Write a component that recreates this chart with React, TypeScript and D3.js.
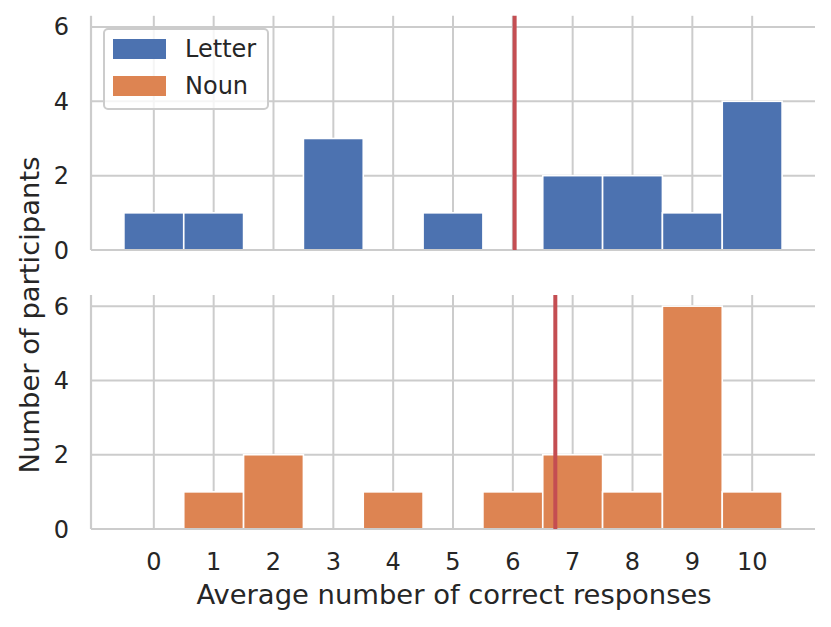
import * as d3 from 'd3';
import { useEffect, useRef } from 'react';

// bin centres (one bin per whole number of correct responses)
const binCentres = [0, 1, 2, 3, 4, 5, 6, 7, 8, 9, 10];
const letterCounts = [1, 1, 0, 3, 0, 1, 0, 2, 2, 1, 4];
const nounCounts = [0, 1, 2, 0, 1, 0, 1, 2, 1, 6, 1];
const letterMean = 6.03;
const nounMean = 6.71;
const yTicks = [0, 2, 4, 6];
const seriesNames = ['Letter', 'Noun'];
const seriesColors = ['#4c72b0', '#dd8452'];

const width = 831;
const height = 627;
const textColor = '#262626';
const gridColor = '#cccccc';
const font = '"DejaVu Sans", sans-serif';

export default function App() {
  const ref = useRef<SVGSVGElement | null>(null);

  useEffect(() => {
    if (!ref.current) return;
    const svg = d3.select(ref.current);
    svg.selectAll('*').remove();

    const x = d3.scaleLinear().domain([-1.05, 11.05]).range([91, 815]);

    const panels = [
      { counts: letterCounts, mean: letterMean, color: seriesColors[0], top: 15.8, bottom: 250 },
      { counts: nounCounts, mean: nounMean, color: seriesColors[1], top: 295, bottom: 529 },
    ];

    panels.forEach((p, i) => {
      const y = d3.scaleLinear().domain([0, 6.3]).range([p.bottom, p.top]);
      const g = svg.append('g');

      // grid
      g.selectAll('line.vg')
        .data(binCentres)
        .join('line')
        .attr('x1', (d) => x(d))
        .attr('x2', (d) => x(d))
        .attr('y1', p.top)
        .attr('y2', p.bottom)
        .attr('stroke', gridColor)
        .attr('stroke-width', 2);
      g.selectAll('line.hg')
        .data(yTicks)
        .join('line')
        .attr('x1', x.range()[0])
        .attr('x2', x.range()[1])
        .attr('y1', (d) => y(d))
        .attr('y2', (d) => y(d))
        .attr('stroke', gridColor)
        .attr('stroke-width', 2);

      // bars
      g.selectAll('rect.bar')
        .data(p.counts.map((c, k) => ({ c, k })).filter((d) => d.c > 0))
        .join('rect')
        .attr('x', (d) => x(binCentres[d.k] - 0.5))
        .attr('width', (d) => x(binCentres[d.k] + 0.5) - x(binCentres[d.k] - 0.5))
        .attr('y', (d) => y(d.c))
        .attr('height', (d) => y(0) - y(d.c))
        .attr('fill', p.color)
        .attr('stroke', '#ffffff')
        .attr('stroke-width', 1.6);

      // spines (left + bottom)
      g.append('line')
        .attr('x1', x.range()[0]).attr('x2', x.range()[0])
        .attr('y1', p.top).attr('y2', p.bottom)
        .attr('stroke', gridColor).attr('stroke-width', 2.2);
      g.append('line')
        .attr('x1', x.range()[0]).attr('x2', x.range()[1])
        .attr('y1', p.bottom).attr('y2', p.bottom)
        .attr('stroke', gridColor).attr('stroke-width', 2.2);

      // mean line
      g.append('line')
        .attr('x1', x(p.mean)).attr('x2', x(p.mean))
        .attr('y1', p.top).attr('y2', p.bottom)
        .attr('stroke', '#c44e52').attr('stroke-width', 4);

      // y tick labels
      g.selectAll('text.yt')
        .data(yTicks)
        .join('text')
        .attr('x', 69)
        .attr('y', (d) => y(d) + 8.5)
        .attr('text-anchor', 'end')
        .attr('font-family', font)
        .attr('font-size', 24)
        .attr('fill', textColor)
        .text((d) => d);

      if (i === 1) {
        g.selectAll('text.xt')
          .data(binCentres)
          .join('text')
          .attr('x', (d) => x(d))
          .attr('y', 570)
          .attr('text-anchor', 'middle')
          .attr('font-family', font)
          .attr('font-size', 24)
          .attr('fill', textColor)
          .text((d) => d);
      }
    });

    // legend
    const lg = svg.append('g');
    lg.append('rect')
      .attr('x', 104).attr('y', 29).attr('width', 164).attr('height', 80)
      .attr('rx', 4)
      .attr('fill', 'rgba(255,255,255,0.8)')
      .attr('stroke', gridColor).attr('stroke-width', 2);
    seriesNames.forEach((name, k) => {
      lg.append('rect')
        .attr('x', 113).attr('y', 39 + k * 37).attr('width', 53).attr('height', 20)
        .attr('fill', seriesColors[k]);
      lg.append('text')
        .attr('x', 185).attr('y', 57 + k * 37)
        .attr('font-family', font).attr('font-size', 24).attr('fill', textColor)
        .text(name);
    });

    // axis labels
    svg.append('text')
      .attr('x', 454).attr('y', 604)
      .attr('text-anchor', 'middle')
      .attr('font-family', font).attr('font-size', 27.4).attr('fill', textColor)
      .text('Average number of correct responses');
    svg.append('text')
      .attr('transform', 'translate(39,315) rotate(-90)')
      .attr('text-anchor', 'middle')
      .attr('font-family', font).attr('font-size', 27.4).attr('fill', textColor)
      .text('Number of participants');
  }, []);

  return (
    <svg
      ref={ref}
      width={width}
      height={height}
      style={{ position: 'absolute', left: 0, top: 0, background: '#fff' }}
    />
  );
}
